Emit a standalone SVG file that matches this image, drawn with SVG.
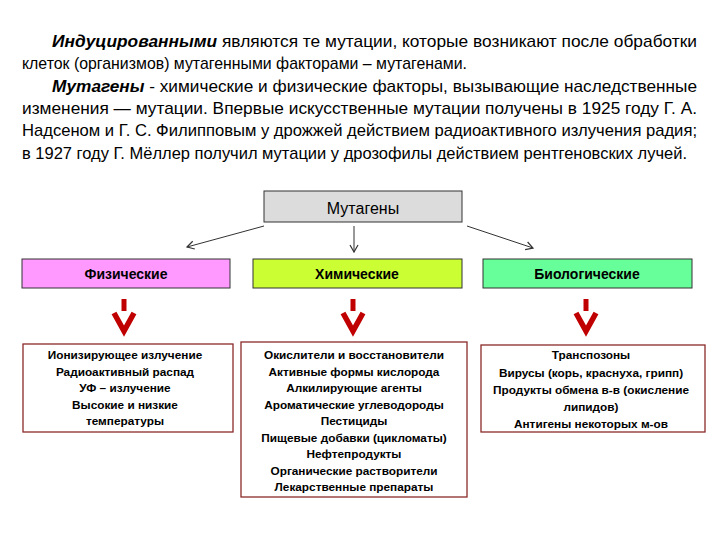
<svg xmlns="http://www.w3.org/2000/svg" width="720" height="540" viewBox="0 0 720 540">
<style>
.p{font-family:"Liberation Sans",Arial,sans-serif;font-size:17px;fill:#000}
.bi{font-weight:bold;font-style:italic}
.t{font-family:"Liberation Sans",Arial,sans-serif;text-anchor:middle;fill:#000}
.cat{font-size:14px;font-weight:bold}
.item{font-size:11.8px;font-weight:bold}
.box{stroke:#333;stroke-width:1}
.lst{fill:#fff;stroke:#8b2a2a;stroke-width:1.3}
.con{fill:none;stroke:#333;stroke-width:1}
.red{fill:none;stroke:#c00000;stroke-width:5.5}
</style>
<defs>
<marker id="ah" markerWidth="10" markerHeight="10" refX="8" refY="5" orient="auto" markerUnits="userSpaceOnUse">
<path d="M1,1 L8,5 L1,9" fill="none" stroke="#333" stroke-width="1.2"/>
</marker>
<g id="redarrow">
<line x1="0" y1="-24" x2="0" y2="-12" stroke="#c00000" stroke-width="5"/>
<polyline points="-10,-10 0,8 10,-10" class="red" stroke-linejoin="miter"/>
</g>
</defs>
<rect width="720" height="540" fill="#fff"/>
<g id="paragraph">
<text class="p" x="52" y="47" textLength="645" lengthAdjust="spacingAndGlyphs"><tspan class="bi">Индуцированными</tspan> являются те мутации, которые возникают после обработки</text>
<text class="p" x="22" y="69" textLength="445" lengthAdjust="spacingAndGlyphs">клеток (организмов) мутагенными факторами – мутагенами.</text>
<text class="p" x="52" y="92" textLength="645" lengthAdjust="spacingAndGlyphs"><tspan class="bi">Мутагены</tspan> - химические и физические факторы, вызывающие наследственные</text>
<text class="p" x="22" y="114" textLength="675" lengthAdjust="spacingAndGlyphs">изменения — мутации. Впервые искусственные мутации получены в 1925 году Г. А.</text>
<text class="p" x="22" y="136" textLength="675" lengthAdjust="spacingAndGlyphs">Надсеном и Г. С. Филипповым у дрожжей действием радиоактивного излучения радия;</text>
<text class="p" x="22" y="159" textLength="665" lengthAdjust="spacingAndGlyphs">в 1927 году Г. Мёллер получил мутации у дрозофилы действием рентгеновских лучей.</text>
</g>
<g id="connectors">
<line class="con" x1="264" y1="226" x2="187" y2="247" marker-end="url(#ah)"/>
<line class="con" x1="354" y1="226" x2="354" y2="252" marker-end="url(#ah)"/>
<line class="con" x1="467" y1="226" x2="533" y2="248" marker-end="url(#ah)"/>
<use href="#redarrow" x="124" y="323"/>
<use href="#redarrow" x="353" y="323"/>
<use href="#redarrow" x="586" y="323"/>
</g>
<g id="mutageny">
<rect class="box" x="264" y="191" width="198" height="31" fill="#dcdcdc"/>
<text class="t" x="363" y="214" font-size="16">Мутагены</text>
</g>
<g id="fizicheskie">
<rect class="box" x="22" y="259" width="208" height="29" fill="#ff99ff"/>
<text class="t cat" x="126" y="279">Физические</text>
</g>
<g id="khimicheskie">
<rect class="box" x="253" y="259" width="209" height="29" fill="#ccff33"/>
<text class="t cat" x="357" y="279">Химические</text>
</g>
<g id="biologicheskie">
<rect class="box" x="483" y="259" width="209" height="29" fill="#66ff99"/>
<text class="t cat" x="587" y="279">Биологические</text>
</g>
<g id="fiz-list">
<rect class="lst" x="23" y="344" width="210" height="88"/>
<text class="t item" x="125" y="359">Ионизирующее излучение</text>
<text class="t item" x="125" y="375.5">Радиоактивный распад</text>
<text class="t item" x="125" y="392">УФ – излучение</text>
<text class="t item" x="125" y="408.5">Высокие и низкие</text>
<text class="t item" x="125" y="425">температуры</text>
</g>
<g id="khim-list">
<rect class="lst" x="241" y="342" width="226" height="155"/>
<text class="t item" x="354" y="359">Окислители и восстановители</text>
<text class="t item" x="354" y="375.5">Активные формы кислорода</text>
<text class="t item" x="354" y="392">Алкилирующие агенты</text>
<text class="t item" x="354" y="408.5">Ароматические углеводороды</text>
<text class="t item" x="354" y="425">Пестициды</text>
<text class="t item" x="354" y="441.5">Пищевые добавки (цикломаты)</text>
<text class="t item" x="354" y="458">Нефтепродукты</text>
<text class="t item" x="354" y="474.5">Органические растворители</text>
<text class="t item" x="354" y="491">Лекарственные препараты</text>
</g>
<g id="bio-list">
<rect class="lst" x="481" y="345" width="224" height="87"/>
<text class="t item" x="591" y="359">Транспозоны</text>
<text class="t item" x="591" y="376.5">Вирусы (корь, краснуха, грипп)</text>
<text class="t item" x="591" y="394">Продукты обмена в-в (окисление</text>
<text class="t item" x="591" y="411">липидов)</text>
<text class="t item" x="591" y="428">Антигены некоторых м-ов</text>
</g>
</svg>
